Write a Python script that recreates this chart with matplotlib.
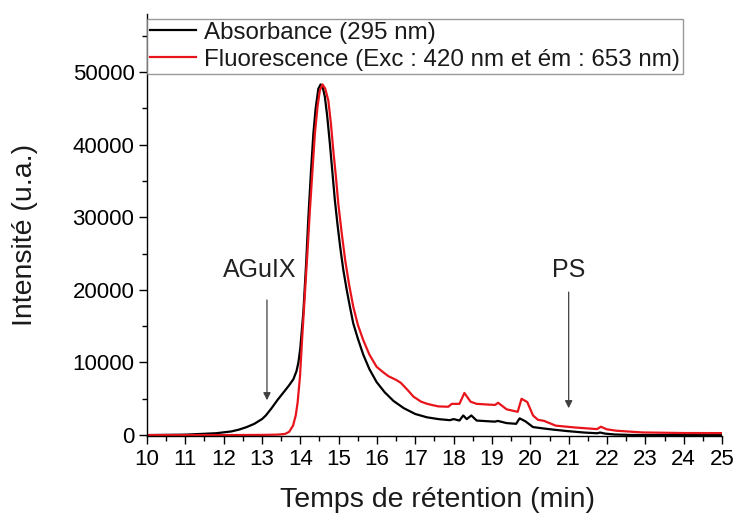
import matplotlib
matplotlib.use("Agg")
import matplotlib.pyplot as plt
from matplotlib.ticker import MultipleLocator

plt.rcParams['font.family'] = ['Liberation Sans', 'DejaVu Sans']

# Absorbance (295 nm) - retention time (min) / intensity (a.u.)
abs_t = [10.0, 11.0, 11.8, 12.2, 12.4, 12.6, 12.8, 13.0, 13.1, 13.25, 13.4, 13.55,
         13.7, 13.82, 13.9, 13.95, 14.0, 14.08, 14.15, 14.21, 14.28, 14.34, 14.4,
         14.47, 14.53, 14.58, 14.64, 14.7, 14.77, 14.84, 14.9, 14.97, 15.04, 15.12,
         15.21, 15.3, 15.38, 15.5, 15.64, 15.8, 15.99, 16.2, 16.43, 16.7, 17.0,
         17.3, 17.6, 17.9, 18.0, 18.15, 18.25, 18.34, 18.46, 18.6, 18.9, 19.08,
         19.15, 19.38, 19.63, 19.72, 19.87, 20.07, 20.36, 20.6, 20.96, 21.4, 21.74,
         21.82, 21.95, 22.2, 22.6, 23.0, 24.0, 25.0]
abs_y = [0, 60, 250, 500, 750, 1100, 1550, 2200, 2700, 3700, 4800, 5800,
         6800, 7700, 8800, 10000, 12000, 17000, 23500, 30000, 36500, 41500, 45000,
         47700, 48300, 48000, 46600, 44000, 40200, 36000, 32400, 29000, 25900, 22800,
         20000, 17500, 15400, 13300, 11100, 9100, 7300, 5900, 4700, 3700, 2900,
         2450, 2200, 2050, 2200, 2000, 2700, 2200, 2700, 2000, 1900, 1850,
         1950, 1650, 1550, 2300, 1900, 1100, 900, 750, 550, 350, 250,
         350, 200, 80, 20, 0, 0, 0]

# Fluorescence (Exc : 420 nm / em : 653 nm)
flu_t = [10.0, 11.0, 12.0, 13.0, 13.4, 13.6, 13.71, 13.81, 13.88, 13.93, 13.99,
         14.05, 14.12, 14.19, 14.25, 14.32, 14.38, 14.45, 14.51, 14.58, 14.65,
         14.73, 14.8, 14.86, 14.93, 14.99, 15.08, 15.17, 15.27, 15.38, 15.5, 15.64,
         15.8, 15.99, 16.15, 16.3, 16.5, 16.62, 16.8, 16.95, 17.15, 17.31, 17.47,
         17.6, 17.86, 17.95, 18.15, 18.28, 18.44, 18.6, 18.9, 19.08, 19.16, 19.38,
         19.67, 19.77, 19.92, 20.07, 20.2, 20.36, 20.66, 21.15, 21.74, 21.84, 21.99,
         22.24, 22.93, 24.0, 25.0]
flu_y = [0, 0, 0, 20, 60, 150, 450, 1300, 2700, 4500, 8000,
         13500, 19500, 25500, 31000, 36700, 41500, 45300, 47500, 48300, 47700,
         46100, 42800, 39200, 35500, 31900, 27800, 24100, 20800, 17700, 15200, 13100,
         11100, 9400, 8700, 8100, 7600, 7200, 6200, 5300, 4600, 4300, 4100,
         3950, 3900, 4300, 4300, 5800, 4600, 4300, 4200, 4150, 4450, 3550,
         3200, 5000, 4550, 2700, 2100, 1950, 1300, 1050, 820, 1150, 800,
         600, 360, 280, 270]

x_ticks = list(range(10, 26))
y_ticks = [0, 10000, 20000, 30000, 40000, 50000]

fig = plt.figure(figsize=(7.36, 5.18), dpi=100)
ax = fig.add_axes([0.1997, 0.158, 0.7813, 0.815])

ax.plot(abs_t, abs_y, color='black', lw=1.6, label='Absorbance (295 nm)')
ax.plot(flu_t, flu_y, color='#e8141c', lw=1.6, label='Fluorescence (Exc : 420 nm et ém : 653 nm)')

ax.set_xlim(10, 25)
ax.set_ylim(-150, 58000)
ax.set_xticks(x_ticks)
ax.set_yticks(y_ticks)
ax.xaxis.set_minor_locator(MultipleLocator(0.5))
ax.yaxis.set_minor_locator(MultipleLocator(5000))
ax.tick_params(which='major', direction='out', length=6, width=1, labelsize=16, colors='black', pad=3)
ax.tick_params(which='minor', direction='out', length=3.5, width=1)
for s in ['top', 'right']:
    ax.spines[s].set_visible(False)
for s in ['left', 'bottom']:
    ax.spines[s].set_linewidth(1)

ax.set_xlabel('Temps de rétention (min)', fontsize=20.5, color='#1a1a1a')
ax.set_ylabel('Intensité (u.a.)', fontsize=20.5, color='#1a1a1a')
ax.xaxis.set_label_coords(0.505, -0.121)
ax.yaxis.set_label_coords(-0.19, 0.476)

arrow = dict(arrowstyle='-|>', color='#404040', lw=0.9, mutation_scale=11, shrinkA=0, shrinkB=0)
ax.annotate('', xy=(13.13, 4800), xytext=(13.13, 18600), arrowprops=arrow)
ax.text(12.95, 22700, 'AGuIX', fontsize=18, ha='center', va='center', color='#222222')
ax.annotate('', xy=(21.0, 3700), xytext=(21.0, 19700), arrowprops=arrow)
ax.text(21.0, 22700, 'PS', fontsize=18, ha='center', va='center', color='#222222')

leg = ax.legend(loc='upper left', bbox_to_anchor=(0.0, 0.988), borderaxespad=0,
                fontsize=17.4, frameon=True, fancybox=False, handlelength=1.9,
                handletextpad=0.35, borderpad=0.12, labelspacing=0.2)
leg.get_frame().set_edgecolor('#808080')
leg.get_frame().set_linewidth(1)
for t in leg.get_texts():
    t.set_color('#1a1a1a')

fig.savefig('out.png', dpi=100)
